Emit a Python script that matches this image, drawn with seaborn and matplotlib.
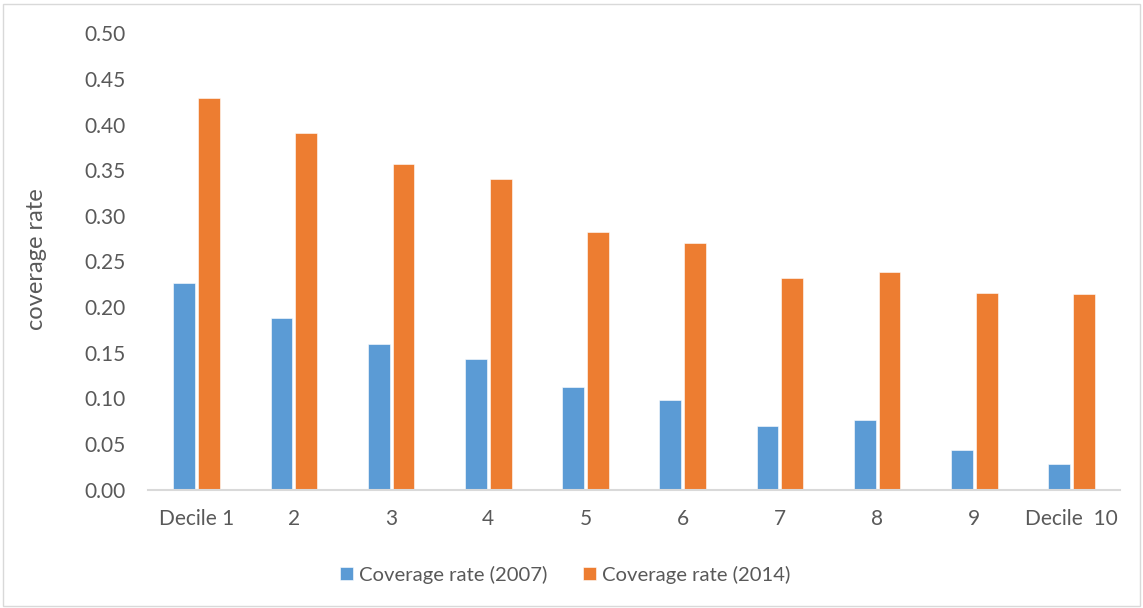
import matplotlib
matplotlib.use("Agg")
import matplotlib.pyplot as plt
import seaborn as sns
import pandas as pd
from matplotlib.patches import Rectangle

categories = ["Decile 1", "2", "3", "4", "5", "6", "7", "8", "9", "Decile  10"]
rate_2007 = [0.226, 0.188, 0.160, 0.143, 0.112, 0.098, 0.070, 0.076, 0.043, 0.028]
rate_2014 = [0.429, 0.391, 0.357, 0.340, 0.282, 0.270, 0.232, 0.238, 0.215, 0.214]
series_names = ["Coverage rate (2007)", "Coverage rate (2014)"]
y_ticks = [0.00, 0.05, 0.10, 0.15, 0.20, 0.25, 0.30, 0.35, 0.40, 0.45, 0.50]

df = pd.DataFrame({
    "category": categories * 2,
    "value": rate_2007 + rate_2014,
    "series": [series_names[0]] * len(categories) + [series_names[1]] * len(categories),
})

sns.set_theme(style="white")
plt.rcParams["font.family"] = ["Lato", "DejaVu Sans"]

fig = plt.figure(figsize=(11.43, 6.08), dpi=100)
ax = fig.add_axes([0.1295, 0.1949, 0.8505, 0.7503])

palette = {series_names[0]: "#5B9BD5", series_names[1]: "#ED7D31"}
sns.barplot(data=df, x="category", y="value", hue="series", order=categories,
            hue_order=series_names, palette=palette, width=0.51, gap=0.12,
            saturation=1, ax=ax, edgecolor="white", linewidth=0.4)

ax.set_ylim(0, 0.5)
ax.set_xlim(-0.5, len(categories) - 0.5)
ax.set_yticks(y_ticks)
ax.set_yticklabels([f"{v:.2f}" for v in y_ticks])
ax.set_xlabel("")
ax.set_ylabel("coverage rate", fontsize=17, color="#595959", labelpad=0)
ax.yaxis.set_label_coords(-0.104, 0.505)
ax.tick_params(axis="both", length=0, labelsize=15, labelcolor="#595959")
ax.tick_params(axis="x", pad=14)
ax.tick_params(axis="y", pad=16)

for side in ["top", "right", "left"]:
    ax.spines[side].set_visible(False)
ax.spines["bottom"].set_color("#d9d9d9")
ax.spines["bottom"].set_linewidth(1.5)

leg = ax.legend(loc="center", bbox_to_anchor=(0.429, -0.187), ncol=2, frameon=False,
                fontsize=14.6, handlelength=0.65, handleheight=0.65, handletextpad=0.3,
                columnspacing=1.75)
for t in leg.get_texts():
    t.set_color("#595959")

fig.patches.append(Rectangle((0.003, 0.003), 0.994, 0.99, transform=fig.transFigure,
                             fill=False, edgecolor="#d9d9d9", linewidth=1))

fig.savefig("out.png", dpi=100)
